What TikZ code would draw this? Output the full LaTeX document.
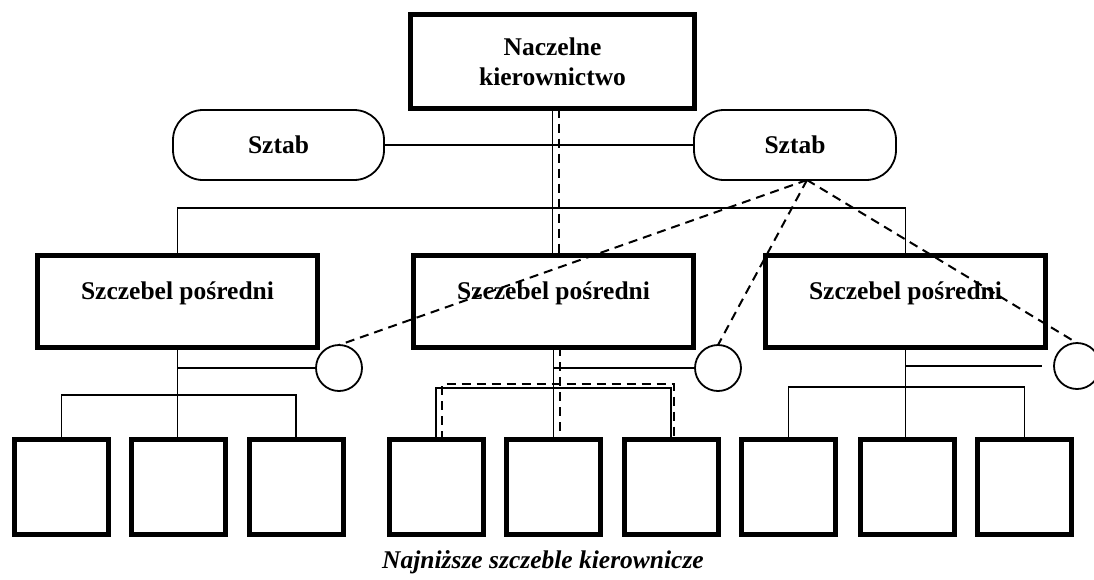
\documentclass[tikz,border=0pt]{standalone}
\usepackage{fontspec}
\setmainfont{Liberation Serif}
\begin{document}
\begin{tikzpicture}[x=1pt,y=-1pt,
  big/.style={draw, line width=5pt, minimum width=280pt, minimum height=92pt, inner sep=0pt, outer sep=0pt},
  leaf/.style={draw, line width=5pt, minimum width=94pt, minimum height=95pt, inner sep=0pt, outer sep=0pt},
  staff/.style={draw, line width=1.8pt, rounded corners=30pt, minimum height=70pt, inner sep=0pt, outer sep=0pt},
  unit/.style={draw, circle, line width=1.8pt, minimum size=46pt, inner sep=0pt, outer sep=0pt},
  conn/.style={line width=1.8pt},
  dsh/.style={line width=2pt, dash pattern=on 9pt off 6pt},
  lbl/.style={font=\fontsize{25.5}{30}\selectfont\bfseries, align=center, inner sep=0pt}]
\useasboundingbox (0,0) rectangle (1094,579);

% top management
\node[big, minimum width=284pt, minimum height=94pt, lbl] (top) at (552.5,61.5) {Naczelne\\kierownictwo};

% staff units
\node[staff, minimum width=211pt, lbl] (sl) at (278.5,145) {Sztab};
\node[staff, minimum width=202pt, lbl] (sr) at (795,145) {Sztab};

% middle level
\node[big] (m1) at (177.5,301) {};
\node[big] (m2) at (553.5,301) {};
\node[big] (m3) at (905.5,301) {};
\node[lbl] (t1) at (177.5,293) {Szczebel pośredni};
\node[lbl] (t2) at (553.5,293) {Szczebel pośredni};
\node[lbl] (t3) at (905.5,293) {Szczebel pośredni};

% circles
\node[unit] (c1) at (339,368) {};
\node[unit] (c2) at (718,368) {};
\node[unit] (c3) at (1077,366) {};

% lowest level
\node[leaf] (b1) at (61.5,487) {};
\node[leaf] (b2) at (178,487) {};
\node[leaf] (b3) at (296,487) {};
\node[leaf] (b4) at (436,487) {};
\node[leaf] (b5) at (553,487) {};
\node[leaf] (b6) at (671,487) {};
\node[leaf] (b7) at (788.5,487) {};
\node[leaf] (b8) at (907,487) {};
\node[leaf] (b9) at (1024.5,487) {};

\node[lbl, font=\fontsize{25.5}{30}\selectfont\bfseries\itshape] (cap) at (543,562) {Najniższe szczeble kierownicze};

% levels
\coordinate (L1) at (0,208);
\coordinate (Lb1) at (0,395);
\coordinate (Lb2) at (0,388);
\coordinate (Lb3) at (0,387);
\coordinate (Ld) at (0,384);

% solid connectors
\draw[conn] (top.south) -- (top.south |- m2.north);
\draw[conn] (sl.east) -- (sr.west);
\draw[conn] (m1.north) -- (m1.north |- L1) -- (m3.north |- L1) -- (m3.north);

\draw[conn] (m1.south) -- (m1.south |- b2.north);
\draw[conn] (c1.west -| m1.south) -- (c1.west);
\draw[conn] (b1.north) -- (b1.north |- Lb1) -- (b3.north |- Lb1) -- (b3.north);

\draw[conn] (m2.south) -- (m2.south |- b5.north);
\draw[conn] (c2.west -| m2.south) -- (c2.west);
\draw[conn] (b4.north) -- (b4.north |- Lb2) -- (b6.north |- Lb2) -- (b6.north);

\draw[conn] (m3.south) -- (m3.south |- b8.north);
\draw[conn] (c3.west -| m3.south) -- ([xshift=-12pt]c3.west);
\draw[conn] (b7.north) -- (b7.north |- Lb3) -- (b9.north |- Lb3) -- (b9.north);

% dashed connectors
\draw[dsh] ([xshift=6pt]top.south) -- ([xshift=6pt]top.south |- m2.north);
\draw[dsh] ([xshift=6pt]m2.south) -- ([xshift=6pt]m2.south |- b5.north);
\draw[dsh] ([xshift=6pt]b4.north) -- ([xshift=6pt]b4.north |- Ld) -- ([xshift=3pt]b6.north |- Ld) -- ([xshift=3pt]b6.north);

\coordinate (sp) at ([xshift=12pt]sr.south);
\draw[dsh] (sp) -- (c1.north);
\draw[dsh] (sp) -- (c2.north);
\draw[dsh] (sp) -- (c3.north);
\end{tikzpicture}
\end{document}
